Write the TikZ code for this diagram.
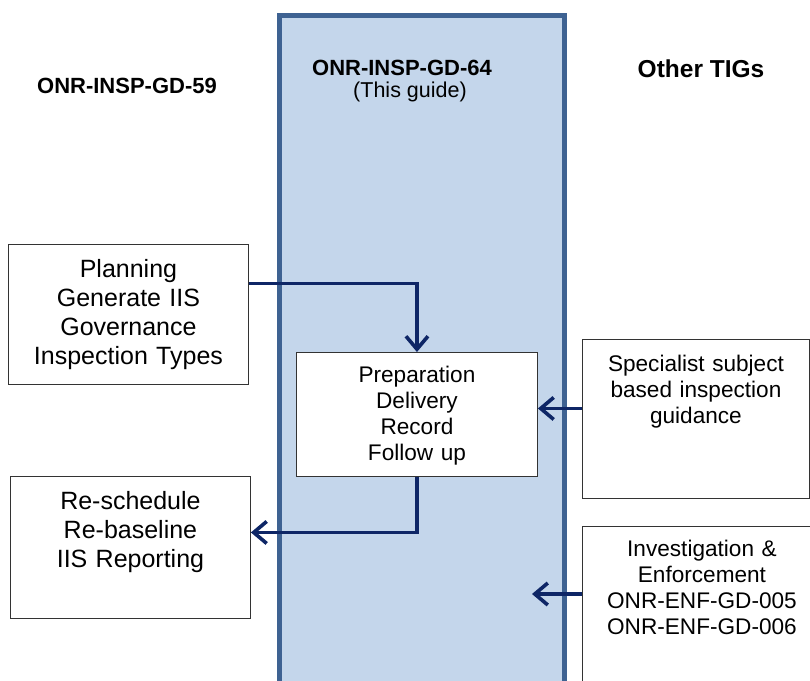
\documentclass[tikz,border=0pt]{standalone}
\usepackage{fontspec}
\setmainfont{Liberation Sans}
\usetikzlibrary{arrows.meta, positioning}

\definecolor{guidefill}{RGB}{196,214,235}
\definecolor{guideline}{RGB}{62,98,146}
\definecolor{flowcol}{RGB}{14,38,102}

\tikzset{
  heading/.style = {anchor=base, font=\bfseries\fontsize{22}{26}\selectfont},
  stagebox/.style = {draw=black!80, line width=0.9pt, fill=white, anchor=north west,
                     align=center, inner xsep=0pt, inner ysep=0pt, text height=32pt},
  bigtext/.style = {font=\fontsize{25}{29}\selectfont},
  smalltext/.style = {font=\fontsize{22.6}{26}\selectfont},
  flow/.style = {draw=flowcol, line width=3.6pt, -{Straight Barb[length=13pt,width=22pt]}},
}

\begin{document}
\begin{tikzpicture}[x=1pt, y=-1pt]
  \useasboundingbox (0,0) rectangle (810,680);

  % the guide column
  \draw [guideline, fill=guidefill, line width=5pt] (279.5,15.5) rectangle (564.5,720);

  \node (gd59) [heading] at (127,93) {ONR-INSP-GD-59};
  \node (gd64) [heading] at (402,75) {ONR-INSP-GD-64};
  \node (thisguide) [anchor=base, font=\fontsize{21.5}{26}\selectfont] at (410,97) {(This guide)};
  \node (tigs) [heading, font=\bfseries\fontsize{24.5}{28}\selectfont] at (701,77) {Other TIGs};

  \node (plan) [stagebox, bigtext, text width=240pt, text height=33pt, text depth=107pt] at (8,244)
      {Planning\\Generate IIS\\Governance\\Inspection Types};
  \node (resched) [stagebox, bigtext, text width=240pt, text height=33pt, text depth=109pt] at (10,476)
      {Re-schedule\\Re-baseline\\IIS Reporting};
  \node (prep) [stagebox, smalltext, text width=241pt, text height=30pt, text depth=94pt] at (296,352)
      {Preparation\\Delivery\\Record\\Follow up};
  \node (spec) [stagebox, smalltext, text width=227pt, text height=32pt, text depth=127pt] at (582,339)
      {Specialist subject\\based inspection\\guidance};
  \node (invest) [stagebox, smalltext, text width=239pt, text height=30pt, text depth=144pt] at (582,526)
      {Investigation \&\\Enforcement\\ONR-ENF-GD-005\\ONR-ENF-GD-006};

  \coordinate (enfin) at (532,594);

  \draw [flow] ([yshift=31pt]plan.east) -| (prep.north);
  \draw [flow] (prep.south) |- ([yshift=15pt]resched.east);
  \draw [flow] ([yshift=10.5pt]spec.west) -- ([yshift=10.5pt]spec.west -| prep.east);
  \draw [flow] (invest.west |- enfin) -- (enfin);
\end{tikzpicture}
\end{document}
